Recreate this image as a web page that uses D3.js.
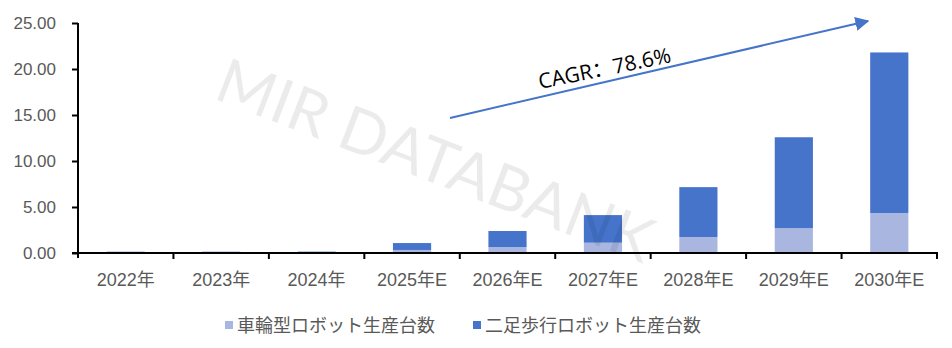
<!DOCTYPE html>
<html>
<head>
<meta charset="utf-8">
<script src="https://cdn.jsdelivr.net/npm/d3@7"></script>
<style>
  body { margin: 0; background: #fff; }
  svg { display: block; }
</style>
</head>
<body>
<div id="chart"></div>
<script>
// Data
var years = ["2022年", "2023年", "2024年", "2025年E", "2026年E", "2027年E", "2028年E", "2029年E", "2030年E"]
var wheeled = [0.02, 0.02, 0.02, 0.33, 0.65, 1.12, 1.74, 2.71, 4.35]
var biped = [0.12, 0.12, 0.13, 0.75, 1.74, 3.00, 5.42, 9.87, 17.45]
var series_names = ["車輪型ロボット生産台数", "二足歩行ロボット生産台数"]
var y_ticks = [0, 5, 10, 15, 20, 25]
var cagr_label = "CAGR：78.6%"
var watermark = "MIR DATABANK"

// Display variables
var total_width = 952, total_height = 348
var plot_left = 78, plot_right = 937, plot_top = 23, plot_bottom = 253
var colours = ["#a9b6e0", "#4674cb"]
var label_colour = "#595959"
var label_font = "'Liberation Sans', Arial, 'Noto Sans CJK JP', sans-serif"
var cjk_font = "'Noto Sans CJK JP', 'Noto Sans CJK SC', sans-serif"

var svg = d3.select("#chart").append("svg")
    .attr("width", total_width).attr("height", total_height)

// Scales
var x = d3.scaleBand().domain(years).range([plot_left, plot_right]).padding(0)
var y = d3.scaleLinear().domain([0, 25]).range([plot_bottom, plot_top])
var bar_w = x.bandwidth() * 0.4

// Stack the two series
var table = years.map((yr, i) => ({year: yr, wheeled: wheeled[i], biped: biped[i]}))
var stacked = d3.stack().keys(["wheeled", "biped"])(table)

// Bars
svg.append("g").selectAll("g")
    .data(stacked)
    .enter().append("g")
    .attr("fill", (d, i) => colours[i])
    .selectAll("rect")
    .data(d => d)
    .enter().append("rect")
    .attr("x", d => x(d.data.year) + (x.bandwidth() - bar_w) / 2)
    .attr("width", bar_w)
    .attr("y", d => y(d[1]))
    .attr("height", d => y(d[0]) - y(d[1]))

// Y axis
var y_axis = svg.append("g")
    .attr("transform", "translate(" + plot_left + ",0)")
    .call(d3.axisLeft(y).tickValues(y_ticks).tickFormat(d3.format(".2f")).tickSize(6).tickPadding(16))
y_axis.select(".domain").attr("stroke", "#000").attr("stroke-width", 2)
    .attr("d", "M0," + (plot_top) + "V" + (plot_bottom + 5))
y_axis.selectAll(".tick line").attr("stroke", "#000").attr("stroke-width", 2)
y_axis.selectAll(".tick text")
    .attr("fill", label_colour)
    .style("font-family", label_font)
    .style("font-size", "17px")

// X axis: line plus ticks at category boundaries
var x_axis = svg.append("g")
x_axis.append("line")
    .attr("x1", plot_left - 6).attr("x2", plot_right + 1)
    .attr("y1", plot_bottom).attr("y2", plot_bottom)
    .attr("stroke", "#000").attr("stroke-width", 2)
x_axis.selectAll(".xtick")
    .data(years.slice(1).concat(["end"]))
    .enter().append("line")
    .attr("x1", (d, i) => i < years.length - 1 ? x(d) : plot_right)
    .attr("x2", (d, i) => i < years.length - 1 ? x(d) : plot_right)
    .attr("y1", plot_bottom).attr("y2", plot_bottom + 6)
    .attr("stroke", "#000").attr("stroke-width", 2)
x_axis.selectAll(".xlabel")
    .data(years)
    .enter().append("text")
    .attr("x", d => x(d) + x.bandwidth() / 2)
    .attr("y", 286)
    .attr("text-anchor", "middle")
    .attr("fill", label_colour)
    .style("font-family", label_font)
    .style("font-size", "18px")
    .text(d => d)

// Legend
var legend_x = [225, 473]
var legend = svg.append("g").selectAll("g")
    .data(series_names)
    .enter().append("g")
    .attr("transform", (d, i) => "translate(" + legend_x[i] + ",321)")
legend.append("rect")
    .attr("width", 8).attr("height", 8)
    .attr("fill", (d, i) => colours[i])
legend.append("text")
    .attr("x", 12).attr("y", 11)
    .attr("fill", label_colour)
    .style("font-family", cjk_font)
    .style("font-size", "18px")
    .text(d => d)

// CAGR arrow
svg.append("defs").append("marker")
    .attr("id", "arrow")
    .attr("viewBox", "0 0 10 10")
    .attr("refX", 9).attr("refY", 5)
    .attr("markerWidth", 7).attr("markerHeight", 7)
    .attr("markerUnits", "strokeWidth")
    .attr("orient", "auto")
    .append("path")
    .attr("d", "M0,0L10,5L0,10Z")
    .attr("fill", "#4674cb")
svg.append("line")
    .attr("x1", 450).attr("y1", 118)
    .attr("x2", 868).attr("y2", 21)
    .attr("stroke", "#4674cb").attr("stroke-width", 2)
    .attr("marker-end", "url(#arrow)")
svg.append("text")
    .attr("transform", "translate(540,89) rotate(-11.5)")
    .attr("fill", "#000")
    .style("font-family", "'Open Sans', 'Noto Sans CJK SC', sans-serif")
    .style("font-size", "21px")
    .text(cagr_label)

// Watermark
svg.append("text")
    .attr("transform", "translate(212,98) rotate(21)")
    .attr("fill", "#000").attr("fill-opacity", 0.08)
    .attr("textLength", 462)
    .attr("lengthAdjust", "spacingAndGlyphs")
    .style("font-family", "'Lato', 'Open Sans', sans-serif")
    .style("font-weight", 400)
    .style("font-size", "62px")
    .text(watermark)
</script>
</body>
</html>
